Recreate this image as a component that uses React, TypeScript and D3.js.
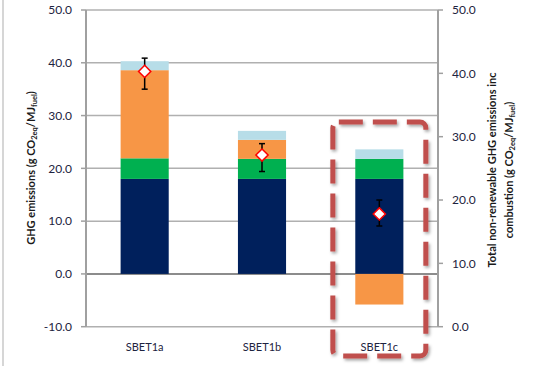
import React from "react";
import * as d3 from "d3";

const categories = ["SBET1a", "SBET1b", "SBET1c"];
const seriesKeys = ["navy", "green", "orange", "lightblue"];
const navyVals = [18.0, 18.0, 18.0];
const greenVals = [3.9, 3.8, 3.8];
const orangeVals = [16.7, 3.6, -5.8];
const lightblueVals = [1.7, 1.7, 1.8];
const totalVals = [40.3, 27.1, 17.8];
const errLow = [37.5, 24.5, 15.9];
const errHigh = [42.4, 28.9, 20.0];
const leftTicks = [-10, 0, 10, 20, 30, 40, 50];
const rightTicks = [0, 10, 20, 30, 40, 50];
const colors: Record<string, string> = {
  navy: "#00205C",
  green: "#00B050",
  orange: "#F79646",
  lightblue: "#B7DDE8",
};

export default function App() {
  const W = 536, H = 366;
  const left = 86, right = 438, top = 10, bottom = 326.7;
  const yL = d3.scaleLinear().domain([-10, 50]).range([bottom, top]);
  const yR = d3.scaleLinear().domain([0, 50]).range([bottom, top]);
  const x = d3.scaleBand().domain(categories).range([left, right]).paddingInner(0.59).paddingOuter(0.295);
  const rows = categories.map((c, i) => ({
    cat: c,
    navy: navyVals[i],
    green: greenVals[i],
    orange: orangeVals[i],
    lightblue: lightblueVals[i],
  }));
  const stack = d3.stack<any>().keys(seriesKeys).offset(d3.stackOffsetDiverging);
  const layers = stack(rows);
  const font = "Lato, 'Open Sans', sans-serif";
  const textCol = "#1d2340";
  const diamond = d3.symbol().type(d3.symbolDiamond2).size(95)();
  const dashX = x("SBET1c")! + x.bandwidth() / 2 - 46.5;
  return (
    <svg width={W} height={H} style={{ position: "absolute", left: 0, top: 0 }}>
      <defs>
        <filter id="sh" x="-20%" y="-20%" width="140%" height="140%">
          <feDropShadow dx="1.5" dy="2" stdDeviation="1.8" floodColor="#000" floodOpacity="0.35" />
        </filter>
      </defs>
      <rect width={W} height={H} fill="#fff" />
      <line x1={3} x2={3} y1={0} y2={H} stroke="#c8c8c8" strokeWidth={1.5} />
      {/* gridlines */}
      {leftTicks.map((t) => (
        <line key={"g" + t} x1={left} x2={right} y1={yL(t)} y2={yL(t)}
          stroke={t === 0 ? "#8c8c8c" : "#b0b0b0"} strokeWidth={t === 0 ? 2 : 1.5} />
      ))}
      {/* bars */}
      {layers.map((layer) =>
        layer.map((d, i) => (
          <rect key={layer.key + i} x={x(categories[i])} width={x.bandwidth()}
            y={yL(Math.max(d[0], d[1]))} height={Math.abs(yL(d[0]) - yL(d[1]))}
            fill={colors[layer.key]} />
        ))
      )}
      {/* axes */}
      <line x1={left} x2={left} y1={top} y2={bottom} stroke="#a0a0a0" strokeWidth={2} />
      <line x1={right} x2={right} y1={top} y2={bottom} stroke="#a0a0a0" strokeWidth={2} />
      {leftTicks.map((t) => (
        <g key={"l" + t}>
          <line x1={left - 5} x2={left} y1={yL(t)} y2={yL(t)} stroke="#a0a0a0" strokeWidth={1.5} />
          <text x={72} y={yL(t)} dy="0.35em" textAnchor="end" fontFamily={font} fontSize={12} fill={textCol}>{t.toFixed(1)}</text>
        </g>
      ))}
      {rightTicks.map((t) => (
        <g key={"r" + t}>
          <line x1={right} x2={right + 5} y1={yR(t)} y2={yR(t)} stroke="#a0a0a0" strokeWidth={1.5} />
          <text x={452} y={yR(t)} dy="0.35em" textAnchor="start" fontFamily={font} fontSize={12} fill={textCol}>{t.toFixed(1)}</text>
        </g>
      ))}
      {categories.map((c) => (
        <text key={c} x={x(c)! + x.bandwidth() / 2} y={347} dy="0.35em" textAnchor="middle" fontFamily={font} fontSize={11} fill={textCol}>{c}</text>
      ))}
      {/* error bars + markers */}
      {categories.map((c, i) => {
        const cx = x(c)! + x.bandwidth() / 2;
        return (
          <g key={"e" + c}>
            <line x1={cx} x2={cx} y1={yR(errLow[i])} y2={yR(errHigh[i])} stroke="#000" strokeWidth={1.5} />
            <line x1={cx - 3} x2={cx + 3} y1={yR(errLow[i])} y2={yR(errLow[i])} stroke="#000" strokeWidth={1.5} />
            <line x1={cx - 3} x2={cx + 3} y1={yR(errHigh[i])} y2={yR(errHigh[i])} stroke="#000" strokeWidth={1.5} />
            <path d={diamond!} transform={`translate(${cx},${yR(totalVals[i])})`} fill="#fff" stroke="#f00" strokeWidth={1.5} />
          </g>
        );
      })}
      {/* axis titles */}
      <text transform={`translate(35,168) rotate(-90)`} textAnchor="middle" fontFamily={font} fontSize={11} fontWeight="bold" fill="#1a1a1a">
        GHG emissions (g CO<tspan fontSize={7.5} dy="2">2eq</tspan><tspan dy="-2">/MJ</tspan><tspan fontSize={7.5} dy="2">fuel</tspan><tspan dy="-2">)</tspan>
      </text>
      <text transform={`translate(496,170) rotate(-90)`} textAnchor="middle" fontFamily={font} fontSize={11} fontWeight="bold" fill="#1a1a1a">
        Total non-renewable GHG emissions inc
      </text>
      <text transform={`translate(513,170) rotate(-90)`} textAnchor="middle" fontFamily={font} fontSize={11} fontWeight="bold" fill="#1a1a1a">
        combustion (g CO<tspan fontSize={7.5} dy="2">2eq</tspan><tspan dy="-2">/MJ</tspan><tspan fontSize={7.5} dy="2">fuel</tspan><tspan dy="-2">)</tspan>
      </text>
      {/* dashed highlight */}
      <rect x={dashX} y={122} width={93} height={234} rx={6} fill="none" stroke="#C0504D" strokeWidth={5}
        strokeDasharray="24 10" filter="url(#sh)" />
    </svg>
  );
}
